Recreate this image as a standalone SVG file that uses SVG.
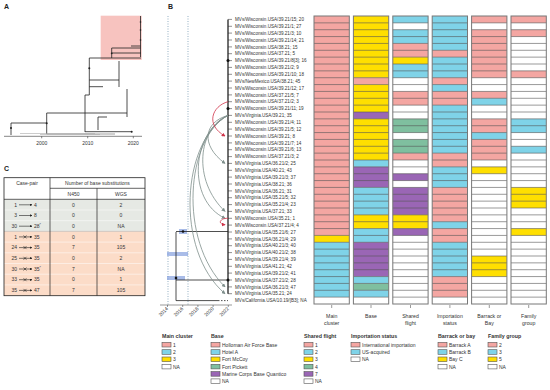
<svg xmlns="http://www.w3.org/2000/svg" width="550" height="390" viewBox="0 0 550 390">
<style>
text{font-family:"Liberation Sans","Noto Sans",Arial,sans-serif;fill:#333}
.pl{font-size:7px;font-weight:bold;fill:#222}
.lab{font-size:4.6px}
.ax{font-size:5px}
.hd{font-size:5.2px;text-anchor:middle}
.lg{font-size:5px}
.lt{font-size:5.3px;font-weight:bold}
.tb{font-size:5px;text-anchor:middle}
.P{fill:#f4a6a2}.B{fill:#7fd3e8}.Y{fill:#ffdf00}.G{fill:#7fbf9f}.U{fill:#9a66b5}.W{fill:#fff}
.sw{stroke:#555;stroke-width:0.6}
.col{fill:none;stroke:#777;stroke-width:1}
.sep{stroke:#555;stroke-width:0.6;fill:none}
.tr{stroke:#222;fill:none;stroke-width:0.8}
.gr{stroke:#7f8f8c;fill:none;stroke-width:0.8}
</style>
<defs>
<marker id="ag" viewBox="0 0 6 6" refX="5" refY="3" markerWidth="5" markerHeight="5" orient="auto"><path d="M0 0L6 3L0 6z" fill="#7f8f8c"/></marker>
<marker id="ar" viewBox="0 0 6 6" refX="5" refY="3" markerWidth="5" markerHeight="5" orient="auto"><path d="M0 0L6 3L0 6z" fill="#d0344a"/></marker>
<marker id="ak" viewBox="0 0 6 6" refX="5" refY="3" markerWidth="4" markerHeight="4" orient="auto"><path d="M0 0L6 3L0 6z" fill="#222"/></marker>
<path id="seps" class="sep" d="M0 22.86h35.3M0 29.71h35.3M0 36.57h35.3M0 43.43h35.3M0 50.29h35.3M0 57.14h35.3M0 64h35.3M0 70.86h35.3M0 77.71h35.3M0 84.57h35.3M0 91.43h35.3M0 98.29h35.3M0 105.14h35.3M0 112h35.3M0 118.86h35.3M0 125.71h35.3M0 132.57h35.3M0 139.43h35.3M0 146.29h35.3M0 153.14h35.3M0 160h35.3M0 166.86h35.3M0 173.71h35.3M0 180.57h35.3M0 187.43h35.3M0 194.29h35.3M0 201.14h35.3M0 208h35.3M0 214.86h35.3M0 221.71h35.3M0 228.57h35.3M0 235.43h35.3M0 242.29h35.3M0 249.14h35.3M0 256h35.3M0 262.86h35.3M0 269.71h35.3M0 276.57h35.3M0 283.43h35.3M0 290.29h35.3M0 297.14h35.3"/>
</defs>
<rect width="550" height="390" fill="#fff"/>

<!-- Panel A -->
<g id="panelA">
<text class="pl" x="4" y="9">A</text>
<rect x="100.7" y="15.7" width="41" height="44.3" fill="#f6b8b4" opacity="0.85"/>
<g class="tr">
<path d="M11 123V135M11 123H46.7M46.7 113V134M46.7 113H85M85 95V132M85 95H89.3M89.3 58V95M89.3 58H141M111.7 48V58M111.7 48H140.5M140.5 16V57M131 46H140.5M111.7 53H141"/>
<path d="M89.3 80H119M119 61V87M89.3 86.7H103M85 113H127M127 89V117M98 117V130M98 117H107M85 131.7H131.7"/>
<path d="M46.7 134H115" stroke="#888"/>
<path d="M20 133.5H95M40 134.5H100" stroke="#aaa" stroke-width="0.6"/>
</g>
<g fill="#222"><circle cx="11" cy="128" r="1"/><circle cx="46.7" cy="123.3" r="1"/><circle cx="89.3" cy="68.3" r="1"/><circle cx="111.7" cy="53.3" r="0.9"/><circle cx="131.7" cy="131.7" r="1"/><circle cx="140.5" cy="22" r="0.8"/><circle cx="140.5" cy="30" r="0.8"/><circle cx="140.5" cy="40" r="0.8"/></g>
<path d="M4 136.3H142M41.7 136.3v2M87.7 136.3v2M133.3 136.3v2" stroke="#333" stroke-width="0.6"/>
<text class="ax" x="41.7" y="144.5" text-anchor="middle">2000</text>
<text class="ax" x="87.7" y="144.5" text-anchor="middle">2010</text>
<text class="ax" x="133.3" y="144.5" text-anchor="middle">2020</text>
</g>

<!-- Panel C -->
<g id="panelC">
<text class="pl" x="4" y="171">C</text>
<rect x="4" y="199.3" width="141" height="32.1" fill="#e6e9e4"/>
<rect x="4" y="231.4" width="141" height="64.3" fill="#fcdcc8"/>
<path d="M4 210H145M4 220.7H145M4 242.1H145M4 252.8H145M4 263.5H145M4 274.2H145M4 284.9H145" stroke="#fff" stroke-width="0.5"/>
<path d="M4 231.4H145" stroke="#999" stroke-width="0.4"/>
<rect x="4" y="177.7" width="141" height="118" fill="none" stroke="#222" stroke-width="0.8"/>
<path d="M50 177.7V295.7M97 188.3V295.7M50 188.3H145M4 199.3H145" stroke="#222" stroke-width="0.7" fill="none"/>
<text class="tb" x="27" y="185">Case-pair</text>
<text class="tb" x="97.5" y="185">Number of base substitutions</text>
<text class="tb" x="73.5" y="196">N450</text>
<text class="tb" x="121" y="196">WGS</text>
<g class="tb">
<text x="73.5" y="206.5">0</text><text x="121" y="206.5">2</text>
<text x="73.5" y="217.2">0</text><text x="121" y="217.2">0</text>
<text x="73.5" y="227.9">0</text><text x="121" y="227.9">NA</text>
<text x="73.5" y="238.6">0</text><text x="121" y="238.6">1</text>
<text x="73.5" y="249.3">7</text><text x="121" y="249.3">105</text>
<text x="73.5" y="260">0</text><text x="121" y="260">2</text>
<text x="73.5" y="270.7">7</text><text x="121" y="270.7">NA</text>
<text x="73.5" y="281.4">0</text><text x="121" y="281.4">1</text>
<text x="73.5" y="292.1">7</text><text x="121" y="292.1">105</text>
</g>
<g class="tb">
<text x="17" y="206.5" text-anchor="end">1</text>
<text x="17" y="217.2" text-anchor="end">3</text>
<text x="17" y="227.9" text-anchor="end">30</text>
<text x="17" y="238.6" text-anchor="end">1</text>
<text x="17" y="249.3" text-anchor="end">24</text>
<text x="17" y="260" text-anchor="end">25</text>
<text x="17" y="270.7" text-anchor="end">30</text>
<text x="17" y="281.4" text-anchor="end">33</text>
<text x="17" y="292.1" text-anchor="end">35</text>
</g>
<g class="tb">
<text x="34" y="206.5" text-anchor="start">4</text>
<text x="34" y="217.2" text-anchor="start">8</text>
<text x="34" y="227.9" text-anchor="start">28<tspan font-size="3.5" dy="-1.5">*</tspan></text>
<text x="34" y="238.6" text-anchor="start">35</text>
<text x="34" y="249.3" text-anchor="start">35</text>
<text x="34" y="260" text-anchor="start">35</text>
<text x="34" y="270.7" text-anchor="start">35<tspan font-size="3.5" dy="-1.5">*</tspan></text>
<text x="34" y="281.4" text-anchor="start">35</text>
<text x="34" y="292.1" text-anchor="start">47</text>
</g>
<g stroke="#222" stroke-width="0.6" fill="none" marker-end="url(#ak)">
<path d="M19 204.8H32"/><path d="M19 215.5H32"/><path d="M19 226.2H32"/>
<path d="M19 236.9H32"/><path d="M19 247.6H32"/><path d="M19 258.3H32"/><path d="M19 269H32"/><path d="M19 279.7H32"/><path d="M19 290.4H32"/>
</g>
<g stroke="#222" stroke-width="0.6">
<path d="M23.5 235.4l3 3M23.5 238.4l3-3"/><path d="M23.5 246.1l3 3M23.5 249.1l3-3"/><path d="M23.5 256.8l3 3M23.5 259.8l3-3"/><path d="M23.5 267.5l3 3M23.5 270.5l3-3"/><path d="M23.5 278.2l3 3M23.5 281.2l3-3"/><path d="M23.5 288.9l3 3M23.5 291.9l3-3"/>
</g>
</g>

<!-- Panel B tree -->
<g id="panelB-tree">
<text class="pl" x="168" y="9">B</text>
<path d="M168 16V305M188 16V305" stroke="#4a7a9a" stroke-width="0.6" stroke-dasharray="1 1.5"/>
<rect x="167" y="252" width="21" height="4" fill="#6f8fd8" opacity="0.6"/>
<rect x="167" y="276" width="18" height="4" fill="#6f8fd8" opacity="0.6"/>
<rect x="179" y="229" width="8" height="5" fill="#6f8fd8" opacity="0.6"/>
<g class="tr">
<path d="M228 19.4V293.7" stroke-width="1.3"/>
<path d="M176 232V300.6M176 300.6H218M176 280H228M176 231.5H228"/>
<path d="M218 300.6H228" stroke-dasharray="1.5 1.5"/>
<path d="M228 19.4h4M228 26.3h4M228 33.1h4M228 40h4M228 46.9h4M228 53.7h4M228 60.6h4M228 67.4h4M228 74.3h4M228 81.1h4M228 88h4M228 94.9h4M228 101.7h4M228 108.6h4M228 115.4h4M228 122.3h4M228 129.1h4M228 136h4M228 142.9h4M228 149.7h4M228 156.6h4M228 163.4h4M228 170.3h4M228 177.1h4M228 184h4M228 190.9h4M228 197.7h4M228 204.6h4M228 211.4h4M228 218.3h4M228 225.1h4M228 232h4M228 238.9h4M228 245.7h4M228 252.6h4M228 259.4h4M228 266.3h4M228 273.1h4M228 280h4M228 286.9h4M228 293.7h4" stroke-width="0.5"/>
</g>
<g fill="#111"><circle cx="228" cy="60.6" r="1.5"/><circle cx="228" cy="108.6" r="1.5"/><circle cx="228" cy="280" r="1.5"/><circle cx="176" cy="278" r="1.3"/><circle cx="183" cy="231.5" r="1.3"/></g>
<path d="M160 305H232M167.5 305v2M182.7 305v2M197.9 305v2M213.1 305v2M228.3 305v2" stroke="#333" stroke-width="0.5"/>
<g class="ax">
<text transform="translate(168.5 309) rotate(-45)" text-anchor="end">2014</text>
<text transform="translate(183.7 309) rotate(-45)" text-anchor="end">2016</text>
<text transform="translate(198.9 309) rotate(-45)" text-anchor="end">2018</text>
<text transform="translate(214.1 309) rotate(-45)" text-anchor="end">2020</text>
<text transform="translate(229.3 309) rotate(-45)" text-anchor="end">2022</text>
</g>
<g class="lab">
<text x="235" y="21">MVs/Wisconsin.USA/39.21/15; 20</text>
<text x="235" y="27.9">MVs/Wisconsin.USA/39.21/1; 27</text>
<text x="235" y="34.7">MVs/Wisconsin.USA/39.21/3; 10</text>
<text x="235" y="41.6">MVs/Wisconsin.USA/39.21/14; 21</text>
<text x="235" y="48.5">MVs/Wisconsin.USA/38.21; 15</text>
<text x="235" y="55.3">MVs/Wisconsin.USA/37.21; 5</text>
<text x="235" y="62.2">MVs/Wisconsin.USA/39.21/8[3]; 16</text>
<text x="235" y="69">MVs/Wisconsin.USA/39.21/2; 9</text>
<text x="235" y="75.9">MVs/Wisconsin.USA/39.21/10; 18</text>
<text x="235" y="82.7">MVs/NewMexico.USA/38.21; 45</text>
<text x="235" y="89.6">MVs/Wisconsin.USA/39.21/12; 17</text>
<text x="235" y="96.5">MVs/Wisconsin.USA/37.21/5; 7</text>
<text x="235" y="103.3">MVs/Wisconsin.USA/37.21/2; 3</text>
<text x="235" y="110.2">MVs/Wisconsin.USA/39.21/11; 19</text>
<text x="235" y="117">MVs/Virginia.USA/39.21; 35</text>
<text x="235" y="123.9">MVs/Wisconsin.USA/39.21/4; 11</text>
<text x="235" y="130.7">MVs/Wisconsin.USA/39.21/5; 12</text>
<text x="235" y="137.6">MVs/Wisconsin.USA/39.21; 8</text>
<text x="235" y="144.5">MVs/Wisconsin.USA/39.21/7; 14</text>
<text x="235" y="151.3">MVs/Wisconsin.USA/39.21/6; 13</text>
<text x="235" y="158.2">MVs/Wisconsin.USA/37.21/3; 2</text>
<text x="235" y="165">MVs/Virginia.USA/36.21/2; 25</text>
<text x="235" y="171.9">MVs/Virginia.USA/40.21; 43</text>
<text x="235" y="178.7">MVs/Virginia.USA/39.21/3; 37</text>
<text x="235" y="185.6">MVs/Virginia.USA/38.21; 36</text>
<text x="235" y="192.5">MVs/Virginia.USA/36.21; 31</text>
<text x="235" y="199.3">MVs/Virginia.USA/35.21/5; 32</text>
<text x="235" y="206.2">MVs/Virginia.USA/35.21/4; 23</text>
<text x="235" y="213">MVs/Virginia.USA/37.21; 33</text>
<text x="235" y="219.9">MVs/Wisconsin.USA/35.21; 1</text>
<text x="235" y="226.7">MVs/Wisconsin.USA/37.21/4; 4</text>
<text x="235" y="233.6">MVs/Virginia.USA/35.21/6; 27</text>
<text x="235" y="240.5">MVs/Virginia.USA/36.21/4; 29</text>
<text x="235" y="247.3">MVs/Virginia.USA/40.21/3; 40</text>
<text x="235" y="254.2">MVs/Virginia.USA/40.21/2; 38</text>
<text x="235" y="261">MVs/Virginia.USA/39.21/4; 39</text>
<text x="235" y="267.9">MVs/Virginia.USA/41.21; 42</text>
<text x="235" y="274.7">MVs/Virginia.USA/39.21/2; 41</text>
<text x="235" y="281.6">MVs/Virginia.USA/37.21/2; 28</text>
<text x="235" y="288.5">MVs/Virginia.USA/36.21/3; 47</text>
<text x="235" y="295.3">MVs/Virginia.USA/35.21; 24</text>
<text x="235" y="302.2">MVs/California.USA/10.19/[B3]; NA</text>
</g>
</g>

<!-- connectors: transmission arrows -->
<g id="connectors">
<path class="gr" marker-end="url(#ag)" d="M228 115.4C204 122 200 145 225 163.4"/>
<path class="gr" marker-end="url(#ag)" d="M228 115.4C198 128 192 180 225 211.4"/>
<path class="gr" marker-end="url(#ag)" d="M228 115.4C192 132 186 200 225 218.3"/>
<path class="gr" marker-end="url(#ag)" d="M228 115.4C186 138 178 240 225 286.9"/>
<path class="gr" marker-end="url(#ag)" d="M228 115.4C182 140 174 250 225 293.7"/>
<path fill="none" stroke="#d0344a" stroke-width="0.8" marker-end="url(#ar)" d="M228 101.7C212 106 205 125 225 136"/>
<path fill="none" stroke="#d0344a" stroke-width="0.8" marker-end="url(#ar)" d="M228 218.3C220 218 217 224 225 224.8"/>
</g>

<!-- Grid columns -->
<g id="col-main">
<rect class="P" x="314" y="16" width="35.3" height="219.43"/>
<rect class="Y" x="314" y="235.43" width="35.3" height="6.86"/>
<rect class="B" x="314" y="242.29" width="35.3" height="54.85"/>
<rect class="W" x="314" y="297.14" width="35.3" height="6.86"/>
<use href="#seps" x="314"/><rect class="col" x="314" y="16" width="35.3" height="288"/>
</g>
<g id="col-base" transform="translate(353.4 0)">
<rect class="Y" y="16" width="35.3" height="61.71"/>
<rect class="P" y="77.71" width="35.3" height="6.86"/>
<rect class="Y" y="84.57" width="35.3" height="27.43"/>
<rect class="U" y="112" width="35.3" height="6.86"/>
<rect class="Y" y="118.86" width="35.3" height="41.14"/>
<rect class="B" y="160" width="35.3" height="6.86"/>
<rect class="U" y="166.86" width="35.3" height="20.57"/>
<rect class="B" y="187.43" width="35.3" height="27.43"/>
<rect class="Y" y="214.86" width="35.3" height="13.71"/>
<rect class="B" y="228.57" width="35.3" height="13.72"/>
<rect class="U" y="242.29" width="35.3" height="34.28"/>
<rect class="B" y="276.57" width="35.3" height="6.86"/>
<rect class="G" y="283.43" width="35.3" height="6.86"/>
<rect class="B" y="290.29" width="35.3" height="6.85"/>
<rect class="W" y="297.14" width="35.3" height="6.86"/>
<use href="#seps"/><rect class="col" y="16" width="35.3" height="288"/>
</g>
<g id="col-flight" transform="translate(392.8 0)">
<rect class="W" y="16" width="35.3" height="288"/>
<rect class="B" y="16" width="35.3" height="6.86"/>
<rect class="B" y="29.71" width="35.3" height="13.72"/>
<rect class="P" y="43.43" width="35.3" height="13.71"/>
<rect class="Y" y="57.14" width="35.3" height="6.86"/>
<rect class="B" y="64" width="35.3" height="13.71"/>
<rect class="P" y="91.43" width="35.3" height="13.71"/>
<rect class="G" y="118.86" width="35.3" height="13.71"/>
<rect class="G" y="139.43" width="35.3" height="13.71"/>
<rect class="P" y="153.14" width="35.3" height="6.86"/>
<rect class="U" y="173.71" width="35.3" height="6.86"/>
<rect class="U" y="187.43" width="35.3" height="27.43"/>
<rect class="Y" y="214.86" width="35.3" height="13.71"/>
<rect class="U" y="228.57" width="35.3" height="6.86"/>
<use href="#seps"/><rect class="col" y="16" width="35.3" height="288"/>
</g>
<g id="col-import" transform="translate(432.2 0)">
<rect class="B" y="16" width="35.3" height="34.29"/>
<rect class="P" y="50.29" width="35.3" height="6.85"/>
<rect class="B" y="57.14" width="35.3" height="20.57"/>
<rect class="P" y="77.71" width="35.3" height="6.86"/>
<rect class="B" y="84.57" width="35.3" height="6.86"/>
<rect class="P" y="91.43" width="35.3" height="13.71"/>
<rect class="B" y="105.14" width="35.3" height="48"/>
<rect class="P" y="153.14" width="35.3" height="13.72"/>
<rect class="B" y="166.86" width="35.3" height="20.57"/>
<rect class="P" y="187.43" width="35.3" height="34.28"/>
<rect class="B" y="221.71" width="35.3" height="6.86"/>
<rect class="P" y="228.57" width="35.3" height="13.72"/>
<rect class="B" y="242.29" width="35.3" height="34.28"/>
<rect class="P" y="276.57" width="35.3" height="20.57"/>
<rect class="W" y="297.14" width="35.3" height="6.86"/>
<use href="#seps"/><rect class="col" y="16" width="35.3" height="288"/>
</g>
<g id="col-barrack" transform="translate(471.6 0)">
<rect class="W" y="16" width="35.3" height="288"/>
<rect class="P" y="16" width="35.3" height="6.86"/>
<rect class="P" y="29.71" width="35.3" height="48"/>
<rect class="P" y="91.43" width="35.3" height="6.86"/>
<rect class="B" y="98.29" width="35.3" height="6.85"/>
<rect class="P" y="118.86" width="35.3" height="13.71"/>
<rect class="B" y="132.57" width="35.3" height="6.86"/>
<rect class="P" y="139.43" width="35.3" height="20.57"/>
<rect class="Y" y="166.86" width="35.3" height="6.85"/>
<rect class="Y" y="256" width="35.3" height="20.57"/>
<use href="#seps"/><rect class="col" y="16" width="35.3" height="288"/>
</g>
<g id="col-family" transform="translate(511 0)">
<rect class="W" y="16" width="35.3" height="288"/>
<rect class="P" y="16" width="35.3" height="6.86"/>
<rect class="P" y="29.71" width="35.3" height="6.86"/>
<rect class="P" y="70.86" width="35.3" height="6.85"/>
<rect class="B" y="118.86" width="35.3" height="13.71"/>
<rect class="B" y="146.29" width="35.3" height="6.85"/>
<rect class="Y" y="187.43" width="35.3" height="20.57"/>
<rect class="Y" y="228.57" width="35.3" height="6.86"/>
<use href="#seps"/><rect class="col" y="16" width="35.3" height="288"/>
</g>
<g id="col-headers">
<path d="M331.7 305v3M371 305v3M410.5 305v3M449.9 305v3M489.3 305v3M528.7 305v3" stroke="#555" stroke-width="0.6"/>
<text class="hd" x="331.7" y="317.5">Main</text><text class="hd" x="331.7" y="324.5">cluster</text>
<text class="hd" x="371" y="317.5">Base</text>
<text class="hd" x="410.5" y="317.5">Shared</text><text class="hd" x="410.5" y="324.5">flight</text>
<text class="hd" x="449.9" y="317.5">Importation</text><text class="hd" x="449.9" y="324.5">status</text>
<text class="hd" x="489.3" y="317.5">Barrack or</text><text class="hd" x="489.3" y="324.5">Bay</text>
<text class="hd" x="528.7" y="317.5">Family</text><text class="hd" x="528.7" y="324.5">group</text>
</g>

<!-- Legends -->
<g id="legend-main">
<text class="lt" x="162" y="338">Main cluster</text>
<rect class="P sw" x="162" y="342.4" width="9" height="4.6"/><text class="lg" x="173" y="346.6">1</text>
<rect class="B sw" x="162" y="349.7" width="9" height="4.6"/><text class="lg" x="173" y="353.9">2</text>
<rect class="Y sw" x="162" y="357" width="9" height="4.6"/><text class="lg" x="173" y="361.2">3</text>
<rect class="W sw" x="162" y="364.3" width="9" height="4.6"/><text class="lg" x="173" y="368.5">NA</text>
</g>
<g id="legend-base">
<text class="lt" x="211" y="338">Base</text>
<rect class="P sw" x="211" y="342.4" width="9" height="4.6"/><text class="lg" x="222" y="346.6">Holloman Air Force Base</text>
<rect class="B sw" x="211" y="349.7" width="9" height="4.6"/><text class="lg" x="222" y="353.9">Hotel A</text>
<rect class="Y sw" x="211" y="357" width="9" height="4.6"/><text class="lg" x="222" y="361.2">Fort McCoy</text>
<rect class="G sw" x="211" y="364.3" width="9" height="4.6"/><text class="lg" x="222" y="368.5">Fort Pickett</text>
<rect class="U sw" x="211" y="371.6" width="9" height="4.6"/><text class="lg" x="222" y="375.8">Marine Corps Base Quantico</text>
<rect class="W sw" x="211" y="378.9" width="9" height="4.6"/><text class="lg" x="222" y="383.1">NA</text>
</g>
<g id="legend-flight">
<text class="lt" x="304" y="338">Shared flight</text>
<rect class="P sw" x="304" y="342.4" width="9" height="4.6"/><text class="lg" x="315" y="346.6">1</text>
<rect class="B sw" x="304" y="349.7" width="9" height="4.6"/><text class="lg" x="315" y="353.9">2</text>
<rect class="Y sw" x="304" y="357" width="9" height="4.6"/><text class="lg" x="315" y="361.2">3</text>
<rect class="G sw" x="304" y="364.3" width="9" height="4.6"/><text class="lg" x="315" y="368.5">4</text>
<rect class="U sw" x="304" y="371.6" width="9" height="4.6"/><text class="lg" x="315" y="375.8">7</text>
<rect class="W sw" x="304" y="378.9" width="9" height="4.6"/><text class="lg" x="315" y="383.1">NA</text>
</g>
<g id="legend-import">
<text class="lt" x="351" y="338">Importation status</text>
<rect class="P sw" x="351" y="342.4" width="9" height="4.6"/><text class="lg" x="362" y="346.6">International importation</text>
<rect class="B sw" x="351" y="349.7" width="9" height="4.6"/><text class="lg" x="362" y="353.9">US-acquired</text>
<rect class="W sw" x="351" y="357" width="9" height="4.6"/><text class="lg" x="362" y="361.2">NA</text>
</g>
<g id="legend-barrack">
<text class="lt" x="438" y="338">Barrack or bay</text>
<rect class="P sw" x="438" y="342.4" width="9" height="4.6"/><text class="lg" x="449" y="346.6">Barrack A</text>
<rect class="B sw" x="438" y="349.7" width="9" height="4.6"/><text class="lg" x="449" y="353.9">Barrack B</text>
<rect class="Y sw" x="438" y="357" width="9" height="4.6"/><text class="lg" x="449" y="361.2">Bay C</text>
<rect class="W sw" x="438" y="364.3" width="9" height="4.6"/><text class="lg" x="449" y="368.5">NA</text>
</g>
<g id="legend-family">
<text class="lt" x="488" y="338">Family group</text>
<rect class="P sw" x="488" y="342.4" width="9" height="4.6"/><text class="lg" x="499" y="346.6">2</text>
<rect class="B sw" x="488" y="349.7" width="9" height="4.6"/><text class="lg" x="499" y="353.9">3</text>
<rect class="Y sw" x="488" y="357" width="9" height="4.6"/><text class="lg" x="499" y="361.2">5</text>
<rect class="W sw" x="488" y="364.3" width="9" height="4.6"/><text class="lg" x="499" y="368.5">NA</text>
</g>
</svg>
